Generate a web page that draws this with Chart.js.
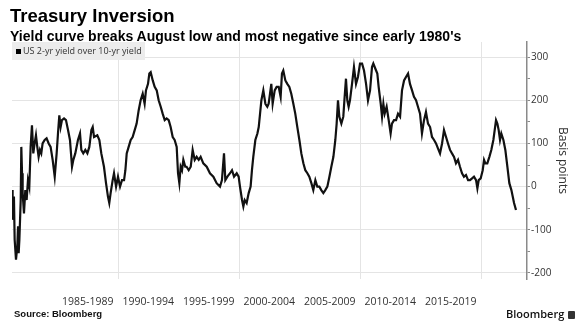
<!DOCTYPE html>
<html>
<head>
<meta charset="utf-8">
<script src="https://cdn.jsdelivr.net/npm/chart.js@4/dist/chart.umd.min.js"></script>
<style>
  body { margin: 0; background: #fff; }
  #wrap { position: relative; width: 579px; height: 333px; overflow: hidden; font-family: "Liberation Sans", Arial, sans-serif; }
  #chart { position: absolute; left: 0; top: 0; }
  .title { position: absolute; left: 10px; top: 7px; font-size: 18.5px; line-height: 18.5px; font-weight: bold; color: #000; white-space: nowrap; }
  .subtitle { position: absolute; left: 10px; top: 29px; font-size: 14px; line-height: 14px; font-weight: bold; color: #000; white-space: nowrap; }
  .legend { position: absolute; left: 12px; top: 42px; width: 133px; height: 18px; background: #ececec; font-family: "Open Sans", sans-serif; font-size: 9px; line-height: 18px; color: #333; white-space: nowrap; }
  .legend i { display: inline-block; width: 5px; height: 5px; background: #000; margin: 0 2px 0 4px; vertical-align: 0px; }
  .source { position: absolute; left: 14px; top: 308px; font-size: 9.5px; font-weight: bold; color: #111; }
  .brand { position: absolute; left: 506px; top: 306px; font-family: "Open Sans", sans-serif; font-size: 11px; font-weight: 600; color: #111; }
  .brand b { display: inline-block; width: 7px; height: 8px; background: #333; border-radius: 1px; margin-left: 4px; vertical-align: -1px; }
</style>
</head>
<body>
<div id="wrap">
  <canvas id="chart" width="579" height="333"></canvas>
  <div class="title">Treasury Inversion</div>
  <div class="subtitle">Yield curve breaks August low and most negative since early 1980's</div>
  <div class="legend"><i></i>US 2-yr yield over 10-yr yield</div>
  <div class="source">Source: Bloomberg</div>
  <div class="brand">Bloomberg<b></b></div>
</div>
<script>
// 2-yr over 10-yr spread, basis points
const years = [
  1981.13, 1981.24, 1981.29, 1981.40, 1981.46, 1981.57, 1981.68, 1981.74, 1981.79, 1981.85,
  1981.96, 1982.01, 1982.07, 1982.12, 1982.23, 1982.34, 1982.45, 1982.56, 1982.67, 1982.78,
  1982.89, 1983.00, 1983.11, 1983.22, 1983.33, 1983.44, 1983.55, 1983.66, 1983.77, 1983.94,
  1984.10, 1984.27, 1984.43, 1984.60, 1984.77, 1984.93, 1985.04, 1985.15, 1985.26, 1985.37,
  1985.54, 1985.70, 1985.87, 1986.03, 1986.20, 1986.31, 1986.47, 1986.69, 1986.86, 1986.97,
  1987.13, 1987.30, 1987.47, 1987.63, 1987.80, 1987.91, 1988.02, 1988.29, 1988.46, 1988.62,
  1988.84, 1989.01, 1989.17, 1989.28, 1989.39, 1989.56, 1989.67, 1989.84, 1990.00, 1990.17,
  1990.33, 1990.50, 1990.61, 1990.72, 1990.88, 1991.05, 1991.21, 1991.38, 1991.54, 1991.71,
  1991.87, 1992.04, 1992.20, 1992.31, 1992.48, 1992.59, 1992.70, 1992.87, 1993.03, 1993.20,
  1993.36, 1993.53, 1993.69, 1993.86, 1994.02, 1994.19, 1994.35, 1994.52, 1994.68, 1994.85,
  1994.96, 1995.07, 1995.18, 1995.29, 1995.40, 1995.56, 1995.67, 1995.84, 1996.01, 1996.17,
  1996.34, 1996.50, 1996.67, 1996.83, 1997.05, 1997.33, 1997.60, 1997.88, 1998.15, 1998.43,
  1998.59, 1998.76, 1998.87, 1999.04, 1999.26, 1999.42, 1999.59, 1999.81, 1999.97, 2000.08,
  2000.25, 2000.36, 2000.47, 2000.63, 2000.80, 2000.96, 2001.07, 2001.18, 2001.35, 2001.52,
  2001.63, 2001.74, 2001.85, 2002.01, 2002.18, 2002.34, 2002.45, 2002.56, 2002.67, 2002.78,
  2002.95, 2003.11, 2003.28, 2003.44, 2003.55, 2003.66, 2003.83, 2003.99, 2004.16, 2004.32,
  2004.49, 2004.65, 2004.82, 2004.99, 2005.15, 2005.32, 2005.48, 2005.65, 2005.81, 2005.98,
  2006.14, 2006.31, 2006.47, 2006.64, 2006.80, 2006.97, 2007.13, 2007.30, 2007.47, 2007.63,
  2007.80, 2007.96, 2008.07, 2008.18, 2008.29, 2008.46, 2008.62, 2008.73, 2008.84, 2008.95,
  2009.06, 2009.17, 2009.34, 2009.50, 2009.67, 2009.83, 2010.00, 2010.17, 2010.33, 2010.50,
  2010.66, 2010.83, 2010.99, 2011.10, 2011.27, 2011.43, 2011.54, 2011.71, 2011.82, 2011.93,
  2012.04, 2012.20, 2012.37, 2012.53, 2012.64, 2012.81, 2012.98, 2013.14, 2013.31, 2013.47,
  2013.64, 2013.80, 2013.97, 2014.13, 2014.30, 2014.46, 2014.63, 2014.79, 2014.96, 2015.12,
  2015.29, 2015.45, 2015.62, 2015.79, 2015.95, 2016.12, 2016.28, 2016.45, 2016.61, 2016.78,
  2016.94, 2017.11, 2017.27, 2017.44, 2017.60, 2017.77, 2017.93, 2018.10, 2018.26, 2018.43,
  2018.59, 2018.76, 2018.93, 2019.09, 2019.26, 2019.42, 2019.59, 2019.70, 2019.81, 2019.97,
  2020.14, 2020.25, 2020.36, 2020.52, 2020.69, 2020.85, 2021.02, 2021.13, 2021.24, 2021.35,
  2021.46, 2021.57, 2021.68, 2021.85, 2022.01, 2022.18, 2022.34, 2022.51, 2022.62, 2022.73,
  2022.89
];
const spread = [
  -85, -8, -77, -23, -123, -169, -138, -92, -154, -123,
  -31, 92, 31, -15, -62, -8, -31, 15, 0, 92,
  142, 77, 100, 119, 92, 69, 85, 77, 100, 108,
  112, 100, 92, 62, 23, 77, 123, 165, 138, 154,
  158, 154, 131, 108, 46, 62, 77, 108, 123, 85,
  77, 85, 77, 92, 131, 138, 115, 119, 108, 77,
  46, 8, -23, -38, -15, 15, 31, 0, 23, 0,
  15, 15, 38, 77, 92, 108, 115, 131, 146, 177,
  200, 215, 192, 223, 238, 262, 265, 246, 231, 223,
  200, 185, 169, 154, 158, 154, 138, 115, 108, 92,
  31, 8, 46, 38, 62, 46, 46, 38, 46, 85,
  62, 69, 62, 69, 54, 46, 31, 23, 8, 0,
  15, 77, 15, 23, 31, 38, 23, 31, 23, 0,
  -31, -46, -31, -38, -15, 0, 38, 69, 108, 123,
  138, 169, 200, 223, 192, 185, 192, 215, 238, 192,
  223, 231, 231, 208, 262, 269, 246, 238, 231, 215,
  192, 169, 138, 108, 77, 54, 38, 31, 23, 8,
  -8, 15, 0, 0, -8, -15, -8, 0, 23, 46,
  69, 108, 146, 200, 162, 146, 162, 208, 250, 200,
  185, 200, 238, 277, 238, 254, 285, 285, 269, 238,
  200, 223, 277, 285, 273, 262, 231, 192, 162, 192,
  169, 185, 154, 123, 146, 154, 154, 169, 162, 223,
  246, 254, 262, 238, 223, 208, 200, 185, 169, 123,
  154, 173, 146, 138, 115, 108, 100, 88, 77, 100,
  131, 115, 100, 85, 77, 69, 54, 62, 46, 31,
  23, 27, 15, 15, 19, 23, 15, -4, 15, 19,
  38, 62, 54, 54, 69, 85, 108, 131, 154, 146,
  131, 108, 123, 108, 85, 46, 8, -8, -23, -38,
  -54
];
const periodLabels = ['1985-1989', '1990-1994', '1995-1999', '2000-2004', '2005-2009', '2010-2014', '2015-2019'];
const decades = [1990, 2000, 2010, 2020];
const yTicks = [-200, -150, -100, -50, 0, 50, 100, 150, 200, 250, 300];
const seriesName = 'US 2-yr yield over 10-yr yield';

const points = years.map((y, i) => ({ x: y, y: spread[i] }));
// label sits in the middle of its five-year span
const periodMid = periodLabels.map(l => parseInt(l.slice(0, 4)) + 2.5);

new Chart(document.getElementById('chart'), {
  type: 'line',
  data: {
    datasets: [{
      label: seriesName,
      data: points,
      borderColor: '#111',
      borderWidth: 2.2,
      pointRadius: 0,
      tension: 0
    }]
  },
  options: {
    responsive: false,
    animation: false,
    devicePixelRatio: 1,
    layout: { padding: { top: 42, left: 12, right: 0, bottom: 0 } },
    plugins: { legend: { display: false }, tooltip: { enabled: false } },
    scales: {
      x: {
        type: 'linear',
        min: 1981.24,
        max: 2023.8,
        afterBuildTicks: (scale) => {
          scale.ticks = decades.concat(periodMid).sort((a, b) => a - b).map(v => ({ value: v }));
        },
        afterFit: (scale) => { scale.height = 54; },
        border: { display: false },
        grid: {
          color: (ctx) => decades.includes(ctx.tick && ctx.tick.value) ? '#e4e4e4' : 'rgba(0,0,0,0)',
          drawTicks: false
        },
        ticks: {
          autoSkip: false,
          maxRotation: 0,
          padding: 17,
          color: '#333',
          font: { family: 'Open Sans', size: 10.5 },
          callback: (v) => {
            const i = periodMid.indexOf(v);
            return i >= 0 ? periodLabels[i] : '';
          }
        }
      },
      y: {
        position: 'right',
        min: -214,
        max: 335,
        afterBuildTicks: (scale) => {
          scale.ticks = yTicks.map(v => ({ value: v }));
        },
        afterFit: (scale) => { scale.width = 52; },
        border: { display: true, color: '#8a8a8a', width: 1.5 },
        grid: {
          color: (ctx) => ctx.tick && ctx.tick.value % 100 === 0 ? '#e4e4e4' : 'rgba(0,0,0,0)',
          tickColor: '#8a8a8a',
          tickLength: 3
        },
        ticks: {
          autoSkip: false,
          padding: 1,
          color: '#333',
          font: { family: 'Open Sans', size: 10 },
          callback: (v) => v % 100 === 0 ? String(v) : ''
        },
        title: {
          display: true,
          text: 'Basis points',
          color: '#333',
          font: { family: 'Open Sans', size: 12 },
          padding: { top: 9, bottom: 4 }
        }
      }
    }
  }
});
</script>
</body>
</html>
